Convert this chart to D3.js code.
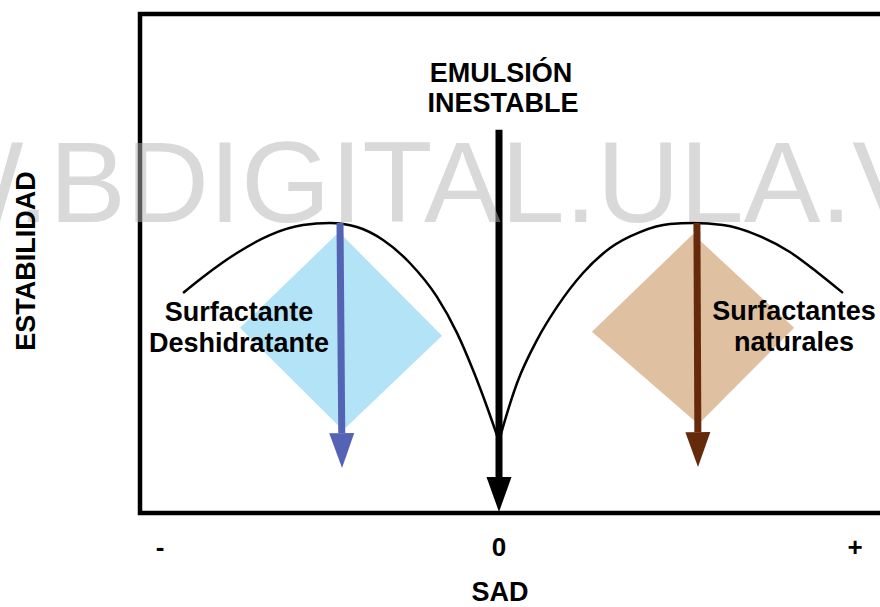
<!DOCTYPE html>
<html>
<head>
<meta charset="utf-8">
<script src="https://cdn.jsdelivr.net/npm/d3@7"></script>
<style>
  body { margin: 0; background: #fff; }
  svg { display: block; font-family: 'Liberation Sans', Arial, sans-serif; }
</style>
</head>
<body>
<div id="chart"></div>
<script>
// SAD axis labels
const sadTickValues = [-100, 0, 100];
const sadTickLabels = ['-', '0', '+'];

// Stability curves [SAD, stability]
const leftCurve = [
    [-93.2, 44.1], [-87.3, 47.3], [-77.3, 52.1], [-67.6, 55.7], [-57.8, 57.7],
    [-49.9, 58.1], [-41.9, 57.3], [-34.2, 54.7], [-26.3, 50.1], [-18.3, 43.3],
    [-12.4, 36.1], [-7.7, 28.7], [-3.5, 21.2], [0, 14.4]
];
const rightCurve = [
    [0, 14.4], [1.1, 17.2], [5.1, 26.1], [10.7, 34.7], [16.3, 41.3],
    [23.6, 48.1], [31.2, 53.1], [39.6, 56.3], [48.0, 57.9], [54.5, 58.1],
    [62.9, 57.7], [72.5, 55.7], [81.7, 52.3], [89.3, 48.3], [96.6, 44.1]
];

// Surfactant zones (diamonds)
const deshidratanteZone = [[-47.2, 56.3], [-16.8, 35.5], [-46.0, 16.6], [-76.4, 37.1]];
const naturalesZone = [[54.5, 55.9], [82.9, 37.1], [56.0, 17.8], [26.1, 36.3]];

// Arrows [from, to]
const deshidratanteArrow = [[-46.9, 58.1], [-46.3, 9.0]];
const naturalesArrow = [[55.6, 58.1], [55.9, 9.2]];
const inestableArrow = [[0, 76.8], [0, 0.2]];

const width = 880;
const height = 607;

const svg = d3.select('#chart').append('svg')
    .attr('width', width)
    .attr('height', height);

// Scales
const xScale = d3.scaleLinear()
    .domain([-100, 0, 100])
    .range([160, 499, 855]);

const yScale = d3.scaleLinear()
    .domain([0, 100])
    .range([513, 14]);

// Frame
svg.append('rect')
    .attr('x', 140)
    .attr('y', 14)
    .attr('width', 800)
    .attr('height', 499)
    .attr('fill', 'none')
    .attr('stroke', '#000')
    .attr('stroke-width', 4.5);

// Diamonds
const zoneLine = d3.line()
    .x(d => xScale(d[0]))
    .y(d => yScale(d[1]));

svg.append('path')
    .attr('d', zoneLine(deshidratanteZone) + 'Z')
    .attr('fill', '#b3e3f6');

svg.append('path')
    .attr('d', zoneLine(naturalesZone) + 'Z')
    .attr('fill', '#dfc0a0');

// Curves
const curveLine = d3.line()
    .x(d => xScale(d[0]))
    .y(d => yScale(d[1]))
    .curve(d3.curveMonotoneX);

[leftCurve, rightCurve].forEach(c => {
    svg.append('path')
        .attr('d', curveLine(c))
        .attr('fill', 'none')
        .attr('stroke', '#000')
        .attr('stroke-width', 2.5);
});

// Arrows
function drawArrow(pts, color) {
    const x1 = xScale(pts[0][0]), y1 = yScale(pts[0][1]);
    const x2 = xScale(pts[1][0]), y2 = yScale(pts[1][1]);
    const headLen = 35, headHalf = 12.5;
    const ang = Math.atan2(y2 - y1, x2 - x1);
    const bx = x2 - headLen * Math.cos(ang), by = y2 - headLen * Math.sin(ang);
    svg.append('line')
        .attr('x1', x1).attr('y1', y1)
        .attr('x2', bx).attr('y2', by)
        .attr('stroke', color)
        .attr('stroke-width', 7);
    const px = -Math.sin(ang) * headHalf, py = Math.cos(ang) * headHalf;
    svg.append('path')
        .attr('d', `M${x2},${y2}L${bx + px},${by + py}L${bx - px},${by - py}Z`)
        .attr('fill', color);
}

drawArrow(deshidratanteArrow, '#5563b5');
drawArrow(naturalesArrow, '#652a0c');
drawArrow(inestableArrow, '#000');

// Labels
function label(x, y, txt, anchor) {
    return svg.append('text')
        .attr('x', x)
        .attr('y', y)
        .attr('text-anchor', anchor || 'middle')
        .style('font-size', '27px')
        .style('font-weight', 'bold')
        .text(txt);
}

label(501, 82, 'EMULSIÓN');
label(503, 112, 'INESTABLE');
label(239, 321, 'Surfactante');
label(239, 352, 'Deshidratante');
label(794, 320, 'Surfactantes');
label(794, 351, 'naturales');

// SAD axis ticks
svg.selectAll('.tick-label')
    .data(sadTickValues)
    .enter().append('text')
    .attr('class', 'tick-label')
    .attr('x', d => xScale(d))
    .attr('y', 556)
    .attr('text-anchor', 'middle')
    .style('font-size', '26px')
    .style('font-weight', 'bold')
    .text((d, i) => sadTickLabels[i]);

label(500, 601, 'SAD');

// Watermark
svg.append('text')
    .attr('x', -302)
    .attr('y', 222)
    .style('font-size', '115px')
    .attr('fill', '#b3b3b3')
    .attr('fill-opacity', 0.5)
    .text('WWW.BDIGITAL.ULA.VE');

// Y axis title
svg.append('text')
    .attr('transform', 'translate(35, 261) rotate(-90)')
    .attr('text-anchor', 'middle')
    .style('font-size', '27px')
    .style('font-weight', 'bold')
    .text('ESTABILIDAD');
</script>
</body>
</html>
